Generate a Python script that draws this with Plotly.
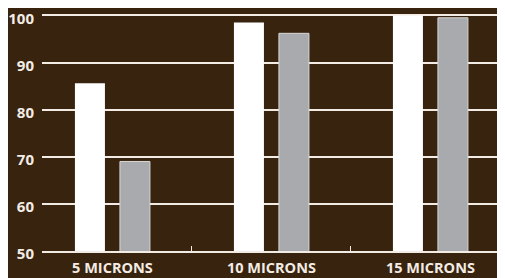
import plotly.graph_objects as go

categories = ["5 MICRONS", "10 MICRONS", "15 MICRONS"]
series_a = [85.6, 98.5, 100.0]
series_b = [69.0, 96.2, 99.5]
y_ticks = [50, 60, 70, 80, 90, 100]

cream = "#f3ece4"

fig = go.Figure()
fig.add_trace(go.Bar(x=categories, y=series_a, marker=dict(color="#ffffff", line=dict(color="#ffffff", width=0)), showlegend=False))
fig.add_trace(go.Bar(x=categories, y=series_b, marker=dict(color="#a8aaad", line=dict(color="#d6d6d6", width=1)), showlegend=False))

fig.update_layout(
    width=505, height=278,
    margin=dict(l=34, r=8, t=6, b=35, autoexpand=False),
    paper_bgcolor="#38230f",
    plot_bgcolor="rgba(0,0,0,0)",
    barmode="group",
    bargap=0.434,
    bargroupgap=0.333,
    font=dict(family="Open Sans", color=cream),
)
fig.update_xaxes(
    range=[-0.443, 2.469],
    automargin=False,
    showgrid=False,
    showline=True, linecolor=cream, linewidth=2,
    tickson="boundaries", ticks="inside", ticklen=5, tickcolor=cream, tickwidth=1,
    ticklabelstandoff=3,
    tickfont=dict(size=14.5, color=cream, family="Open Sans", weight="bold"),
)
fig.update_yaxes(
    range=[50, 100.3],
    automargin=False,
    tickvals=y_ticks,
    showgrid=True, gridcolor=cream, gridwidth=2,
    zeroline=False,
    ticks="", ticklabelstandoff=7,
    ticklabelshift=3,
    ticklabeloverflow="allow",
    tickfont=dict(size=15, color=cream, family="Open Sans", weight="bold"),
)

fig.write_html("out.html")
